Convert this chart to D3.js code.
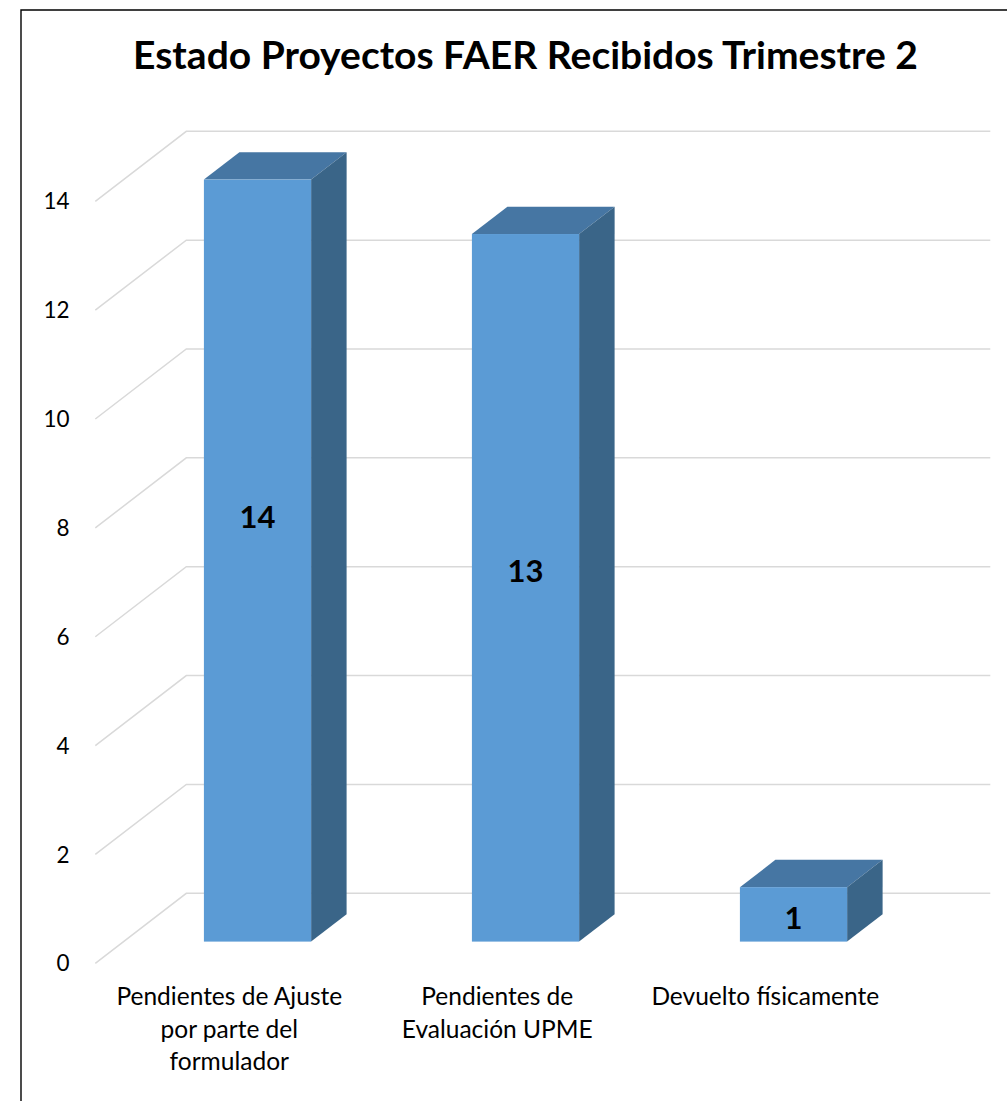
<!DOCTYPE html>
<html>
<head>
<meta charset="utf-8">
<script src="https://cdn.jsdelivr.net/npm/d3@7"></script>
<style>
  html, body { margin: 0; padding: 0; background: #fff; }
  svg { display: block; font-family: Lato, "Open Sans", sans-serif; }
</style>
</head>
<body>
<div id="chart"></div>
<script>
// datos del gráfico
const title = 'Estado Proyectos FAER Recibidos Trimestre 2'
const categories = [
  'Pendientes de Ajuste por parte del formulador',
  'Pendientes de Evaluación UPME',
  'Devuelto físicamente'
]
// líneas de la etiqueta tal como se ven
const categoryLines = [
  ['Pendientes de Ajuste', 'por parte del', 'formulador'],
  ['Pendientes de', 'Evaluación UPME'],
  ['Devuelto físicamente']
]
const values = [14, 13, 1]
const yTicks = [0, 2, 4, 6, 8, 10, 12, 14]

const W = 1007
const H = 1101
const config = {
  // plano frontal del piso
  left: 95.3,
  right: 899.3,
  y0: 963.3,
  y14: 201.3,
  // desplazamiento de la pared del fondo
  depthX: 91,
  depthY: -70,
  // profundidad de las barras (fracción)
  barFront: 0.31,
  barBack: 0.70,
  barRatio: 0.4
}

const svg = d3.select('#chart').append('svg')
  .attr('width', W)
  .attr('height', H)

// marco
svg.append('path')
  .attr('d', `M21,${H + 5} L21,10 L${W + 5},10`)
  .attr('fill', 'none')
  .attr('stroke', '#000')
  .attr('stroke-width', 1.4)

// ajusta el tamaño de fuente para que el texto mida lo mismo
function fitSize (text, weight, target, base) {
  const t = svg.append('text').attr('font-size', base).attr('font-weight', weight).text(text)
  const w = t.node().getComputedTextLength()
  t.remove()
  return base * target / w
}

const titleSize = fitSize(title, 'bold', 785, 40)
const catSize = fitSize('Pendientes de Ajuste', 'normal', 226, 24)
const tickSize = 22.5
const valSize = 31

svg.append('text')
  .attr('x', 525.5)
  .attr('y', 69)
  .attr('text-anchor', 'middle')
  .attr('font-weight', 'bold')
  .attr('font-size', titleSize)
  .attr('fill', '#000')
  .text(title)

const y = d3.scaleLinear().domain([0, 14]).range([config.y0, config.y14])
const x = d3.scaleBand().domain(categories).range([config.left, config.right]).padding(0)

// proyección con profundidad z en [0,1]
const px = (xv, z) => xv + config.depthX * z
const py = (v, z) => y(v) + config.depthY * z

// líneas de cuadrícula: diagonal lateral y pared del fondo
const grid = svg.append('g').attr('stroke', '#d9d9d9').attr('stroke-width', 1.5).attr('fill', 'none')
grid.selectAll('path')
  .data(yTicks)
  .join('path')
  .attr('d', d => `M${px(config.left, 0)},${py(d, 0)} L${px(config.left, 1)},${py(d, 1)} L${px(config.right, 1)},${py(d, 1)}`)

// etiquetas del eje
svg.append('g')
  .selectAll('text')
  .data(yTicks)
  .join('text')
  .attr('x', 69.5)
  .attr('y', d => y(d))
  .attr('dy', '0.36em')
  .attr('text-anchor', 'end')
  .attr('font-size', tickSize)
  .attr('fill', '#000')
  .text(d => d)

// barras 3D
const bw = x.bandwidth() * config.barRatio
const bars = svg.append('g')
  .selectAll('g')
  .data(values.map((v, i) => ({ v, c: categories[i] })))
  .join('g')

bars.each(function (d) {
  const g = d3.select(this)
  const x0 = x(d.c) + x.bandwidth() / 2 - bw / 2
  const x1 = x0 + bw
  const zf = config.barFront
  const zb = config.barBack
  // cara superior
  g.append('path')
    .attr('d', `M${px(x0, zf)},${py(d.v, zf)} L${px(x0, zb)},${py(d.v, zb)} L${px(x1, zb)},${py(d.v, zb)} L${px(x1, zf)},${py(d.v, zf)} Z`)
    .attr('fill', '#4676a3')
  // cara lateral
  g.append('path')
    .attr('d', `M${px(x1, zf)},${py(d.v, zf)} L${px(x1, zb)},${py(d.v, zb)} L${px(x1, zb)},${py(0, zb)} L${px(x1, zf)},${py(0, zf)} Z`)
    .attr('fill', '#3a6588')
  // cara frontal
  g.append('rect')
    .attr('x', px(x0, zf))
    .attr('y', py(d.v, zf))
    .attr('width', bw)
    .attr('height', py(0, zf) - py(d.v, zf))
    .attr('fill', '#5b9bd5')

  // etiqueta del valor
  const top = py(d.v, zf)
  const bottom = py(0, zf)
  g.append('text')
    .attr('x', px(x0, zf) + bw / 2)
    .attr('y', Math.min(top + 337, (top + bottom) / 2 + 3.5))
    .attr('dy', '0.36em')
    .attr('text-anchor', 'middle')
    .attr('font-weight', 'bold')
    .attr('font-size', valSize)
    .attr('fill', '#000')
    .text(d.v)
})

// etiquetas de categoría
svg.append('g')
  .selectAll('text')
  .data(categories)
  .join('text')
  .attr('x', d => x(d) + x.bandwidth() / 2)
  .attr('y', 1005)
  .attr('text-anchor', 'middle')
  .attr('font-size', catSize)
  .attr('fill', '#000')
  .each(function (d, i) {
    d3.select(this).selectAll('tspan')
      .data(categoryLines[i])
      .join('tspan')
      .attr('x', x(d) + x.bandwidth() / 2)
      .attr('dy', (l, j) => j === 0 ? 0 : 32.7)
      .text(l => l)
  })
</script>
</body>
</html>
